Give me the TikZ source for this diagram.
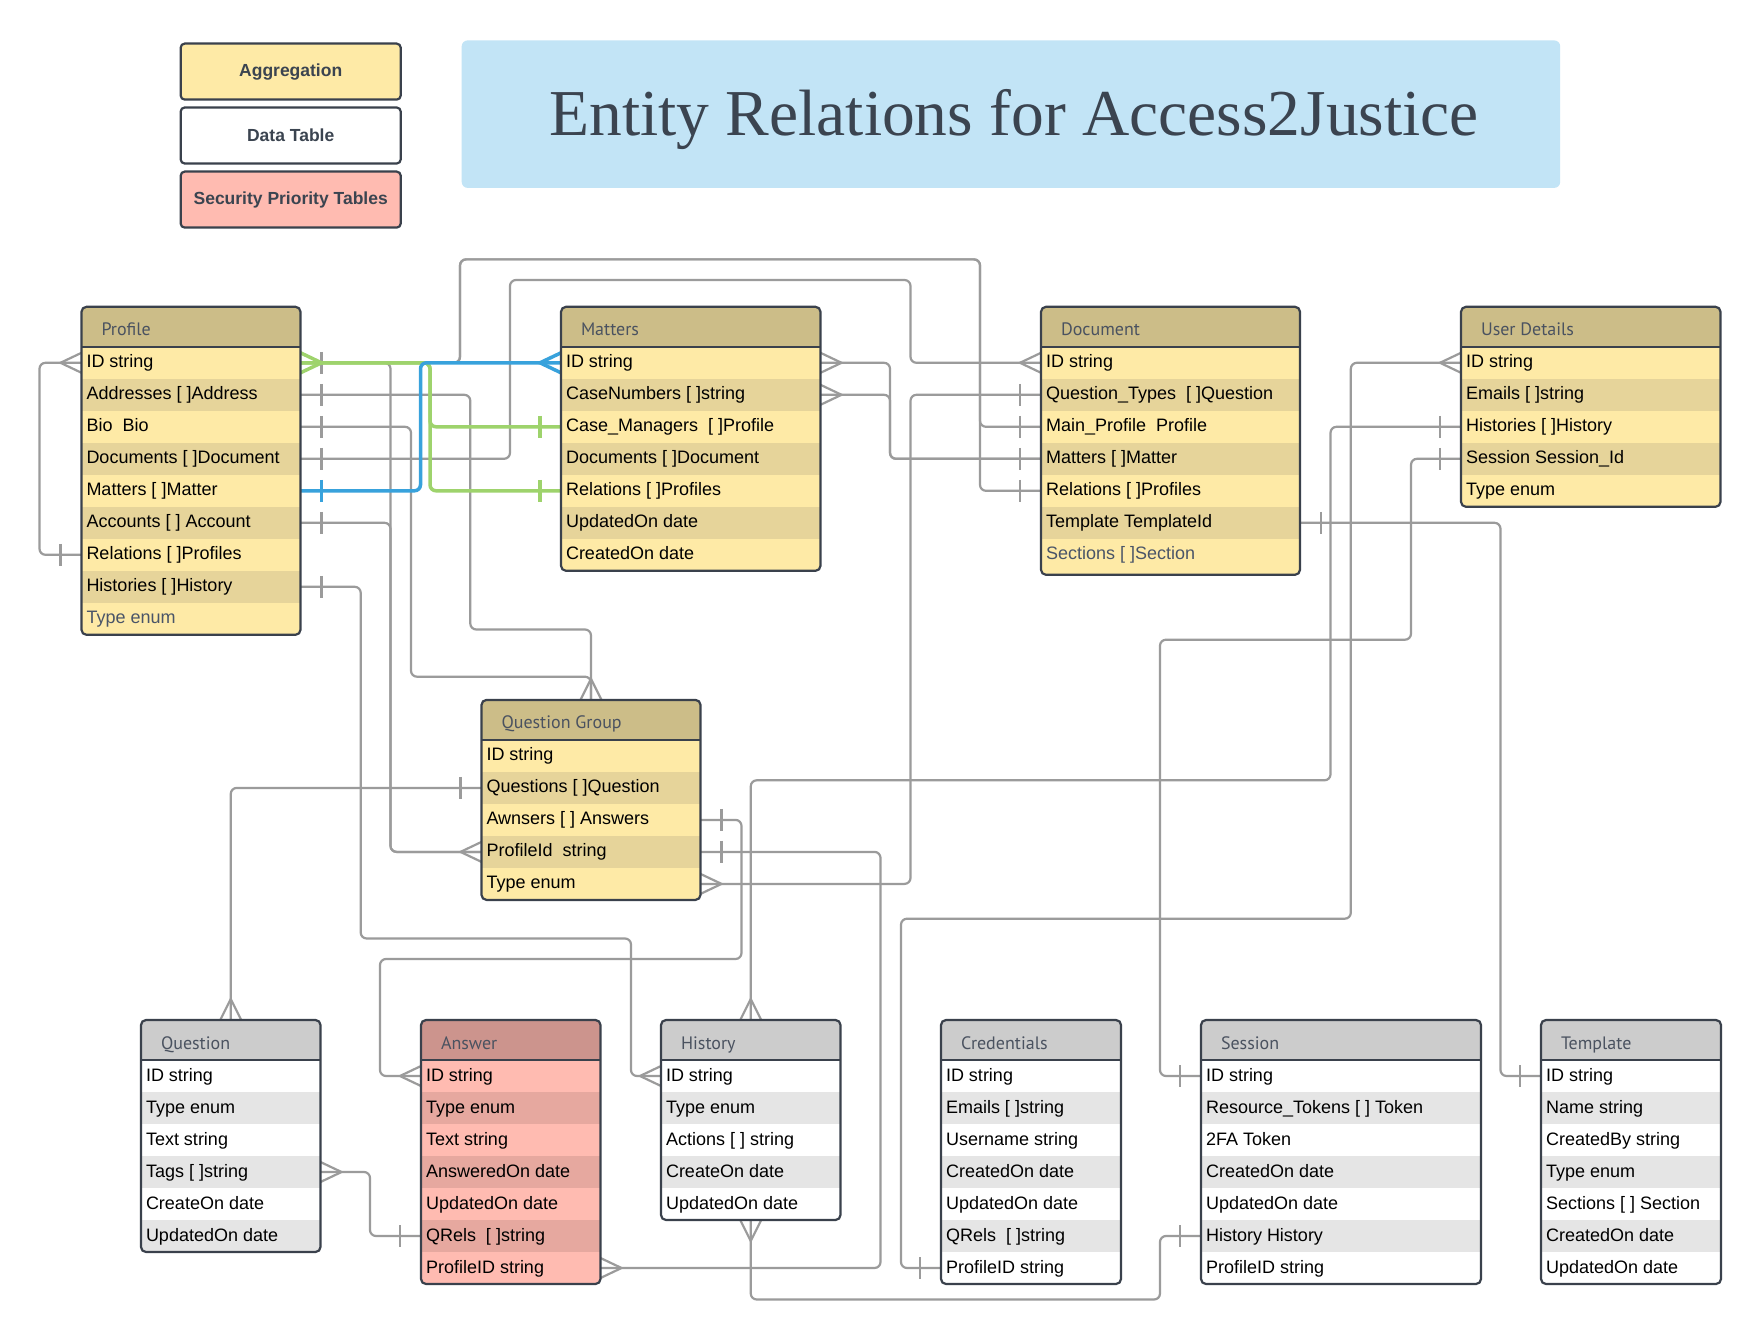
\documentclass[tikz,border=0pt]{standalone}
\usepackage{fontspec}
\setmainfont{Liberation Sans}
\newfontfamily\hdrfont{PT Sans}
\newfontfamily\titlefont{Liberation Serif}
\usetikzlibrary{calc}
\pgfdeclarelayer{paper}
\pgfdeclarelayer{lines}
\pgfsetlayers{paper,lines,main}

\definecolor{agga}{HTML}{FEEAA6}
\definecolor{aggb}{HTML}{E6D49A}
\definecolor{agghead}{HTML}{CCBD88}
\definecolor{data}{HTML}{FFFFFF}
\definecolor{datb}{HTML}{E5E5E5}
\definecolor{dathead}{HTML}{CCCCCC}
\definecolor{seca}{HTML}{FFBBB1}
\definecolor{secb}{HTML}{E6A89F}
\definecolor{sechead}{HTML}{CC948D}
\definecolor{framec}{HTML}{3A414C}
\definecolor{hdrgray}{HTML}{4A5260}
\definecolor{lastgray}{HTML}{4A5568}
\definecolor{linegray}{HTML}{9B9B9B}
\definecolor{relgreen}{HTML}{9ED36C}
\definecolor{relblue}{HTML}{38A2DC}
\definecolor{titlebg}{HTML}{C2E4F6}
\definecolor{titletext}{HTML}{3B4450}

\tikzset{
  rowcell/.style={rectangle, inner sep=0pt, outer sep=0pt, draw=none},
  rowtext/.style={inner sep=0pt, outer sep=0pt, font=\fontsize{18}{21}\selectfont, text=black},
  tframe/.style={rectangle, draw=framec, line width=2.2pt, rounded corners=5pt, inner sep=0pt, outer sep=0pt},
  tline/.style={draw=framec, line width=2.2pt},
  hdrtext/.style={inner sep=0pt, outer sep=0pt, font=\hdrfont\fontsize{18}{21}\selectfont, text=hdrgray},
  rel/.style={draw=linegray, line width=2.2pt, rounded corners=6pt},
  relg/.style={draw=relgreen, line width=3.5pt, rounded corners=6pt},
  relb/.style={draw=relblue, line width=3.5pt, rounded corners=6pt},
  mk/.style={draw=linegray, line width=2.2pt, sharp corners},
  mkg/.style={draw=relgreen, line width=3.5pt, sharp corners},
  mkb/.style={draw=relblue, line width=3.5pt, sharp corners},
  legendbox/.style={rectangle, draw=framec, line width=2.2pt, rounded corners=4pt,
    minimum width=220pt, minimum height=56pt, inner sep=0pt, outer sep=0pt,
    font=\bfseries\fontsize{17.5}{20}\selectfont, text=titletext},
}

% #1 name #2 x #3 y #4 width #5 rows #6 title #7 scheme #8 row list #9 extra bottom
\newcommand{\ertable}[9]{%
  \pgfmathsetmacro{\tbot}{#3+40+32*#5+#9}%
  \begin{scope}
    \clip[rounded corners=5pt] (#2,#3) rectangle (#2+#4,\tbot);
    \fill[#7head] (#2,#3) rectangle (#2+#4,#3+40);
    \foreach \rowtxt [count=\rowi] in {#8} {%
      \pgfmathsetmacro{\ry}{#3+40+32*(\rowi-1)}%
      \pgfmathsetmacro{\rh}{32+(\rowi==#5)*#9}%
      \ifodd\rowi\relax\def\rc{#7a}\else\def\rc{#7b}\fi
      \node[rowcell, fill=\rc, minimum width=#4, minimum height=\rh, anchor=north west] (#1-\rowi) at (#2,\ry) {};
      \node[rowtext, anchor=base west] (#1-t\rowi) at (#2+5,\ry+21) {\rowtxt};
    }
  \end{scope}
  \node[tframe, minimum width=#4, minimum height=\tbot-#3, anchor=north west] (#1) at (#2,#3) {};
  \draw[tline] (#2,#3+40) -- (#2+#4,#3+40);
  \node[hdrtext, anchor=base west] (#1-h) at (#2+20,#3+29) {#6};
}

\newcommand{\crowW}[2][mk]{\draw[#1] ($(#2)+(0,-10)$) -- ($(#2)+(-21,0)$) -- ($(#2)+(0,10)$);}
\newcommand{\crowE}[2][mk]{\draw[#1] ($(#2)+(0,-10)$) -- ($(#2)+(21,0)$) -- ($(#2)+(0,10)$);}
\newcommand{\crowN}[2][mk]{\draw[#1] ($(#2)+(-10.5,0)$) -- ($(#2)+(0,-21)$) -- ($(#2)+(10.5,0)$);}
\newcommand{\crowS}[2][mk]{\draw[#1] ($(#2)+(-10.5,0)$) -- ($(#2)+(0,21)$) -- ($(#2)+(10.5,0)$);}
\newcommand{\barW}[2][mk]{\draw[#1] ($(#2)+(-21,-11)$) -- ($(#2)+(-21,11)$);}
\newcommand{\barE}[2][mk]{\draw[#1] ($(#2)+(21,-11)$) -- ($(#2)+(21,11)$);}

\begin{document}
\begin{tikzpicture}[x=1pt,y=-1pt]
\begin{pgfonlayer}{paper}
  \fill[white] (0,0) rectangle (1761,1340);
\end{pgfonlayer}
\useasboundingbox (0,0) rectangle (1761,1340);

% legend
\node[legendbox, fill=agga] (lg-agg) at (290.7,71.6) {Aggregation};
\node[legendbox, fill=white] (lg-dat) at (290.7,135.5) {Data Table};
\node[legendbox, fill=seca] (lg-sec) at (290.7,199.6) {Security Priority Tables};

% title
\node[fill=titlebg, rounded corners=6pt, minimum width=1098.5pt, minimum height=147.5pt,
      anchor=north west, inner sep=0pt] (titlebox) at (461.5,40.2) {};
\node[anchor=base, inner sep=0pt, font=\titlefont\fontsize{65.5}{70}\selectfont, text=titletext]
      (title) at (1014,136) {Entity Relations for Access2Justice};

% tables
\ertable{pf}{81.5}{306.8}{219}{9}{Profile}{agg}{ID string, Addresses [ ]Address, Bio~ Bio, Documents [ ]Document, Matters [ ]Matter, Accounts [ ] Account, Relations [ ]Profiles, Histories [ ]History, {\color{lastgray}Type enum}}{0}
\ertable{mt}{561}{306.8}{259.5}{7}{Matters}{agg}{ID string, CaseNumbers [ ]string, Case\_Managers~ [ ]Profile, Documents [ ]Document, Relations [ ]Profiles, UpdatedOn date, CreatedOn date}{0}
\ertable{dc}{1041}{306.8}{259}{7}{Document}{agg}{ID string, Question\_Types~ [ ]Question, Main\_Profile~ Profile, Matters [ ]Matter, Relations [ ]Profiles, Template TemplateId, {\color{lastgray}Sections [ ]Section}}{4}
\ertable{ud}{1461}{306.8}{259.5}{5}{User Details}{agg}{ID string, Emails [ ]string, Histories [ ]History, Session Session\_Id, Type enum}{0}
\ertable{qg}{481.5}{699.9}{219}{5}{Question Group}{agg}{ID string, Questions [ ]Question, Awnsers [ ] Answers, ProfileId~ string, Type enum}{0}
\ertable{qn}{141}{1020}{179.5}{6}{Question}{dat}{ID string, Type enum, Text string, Tags [ ]string, CreateOn date, UpdatedOn date}{0}
\ertable{an}{421}{1020}{179.5}{7}{Answer}{sec}{ID string, Type enum, Text string, AnsweredOn date, UpdatedOn date, QRels~ [ ]string, ProfileID string}{0}
\ertable{hi}{661}{1020}{179.5}{5}{History}{dat}{ID string, Type enum, Actions [ ] string, CreateOn date, UpdatedOn date}{0}
\ertable{cr}{941}{1020}{180}{7}{Credentials}{dat}{ID string, Emails [ ]string, Username string, CreatedOn date, UpdatedOn date, QRels~ [ ]string, ProfileID string}{0}
\ertable{se}{1201}{1020}{280}{7}{Session}{dat}{ID string, Resource\_Tokens [ ] Token, 2FA Token, CreatedOn date, UpdatedOn date, History History, ProfileID string}{0}
\ertable{tp}{1541}{1020}{180}{7}{Template}{dat}{ID string, Name string, CreatedBy string, Type enum, Sections [ ] Section, CreatedOn date, UpdatedOn date}{0}

\begin{pgfonlayer}{lines}
% gray connectors
\draw[rel] (pf-1.west) -| ($(pf-7.west)+(-42,0)$) -- (pf-7.west);
\draw[rel] (pf-1.east) -| (460,259.4) -| ($(dc-3.west)+(-61,0)$) -- (dc-3.west);
\draw[rel] (pf-1.east) -| (460,259.4) -| ($(dc-5.west)+(-61,0)$) -- (dc-5.west);
\draw[rel] (pf-2.east) -| (470.3,629.5) -| (qg.north);
\draw[rel] (pf-3.east) -| (411,676.7) -| (qg.north);
\draw[rel] (pf-4.east) -| (510,280) -| ($(dc-1.west)+(-130.5,0)$) -- (dc-1.west);
\draw[rel] (pf-1.east) -| ($(qg-4.west)+(-91,0)$) -- (qg-4.west);
\draw[rel] (pf-6.east) -| ($(qg-4.west)+(-91,0)$) -- (qg-4.west);
\draw[rel] (pf-8.east) -| (360.7,938.5) -| ($(hi-1.west)+(-30,0)$) -- (hi-1.west);
\draw[rel] (mt-1.east) -| ($(dc-4.west)+(-151,0)$) -- (dc-4.west);
\draw[rel] (mt-2.east) -| ($(dc-4.west)+(-151,0)$) -- (dc-4.west);
\draw[rel] (dc-2.west) -| ($(qg-5.east)+(210,0)$) -- (qg-5.east);
\draw[rel] (ud-1.west) -| (1350.8,918.7) -| ($(cr-7.west)+(-40,0)$) -- (cr-7.west);
\draw[rel] (ud-3.west) -| (1330.5,780.3) -| (hi.north);
\draw[rel] (ud-4.west) -| (1411,639.7) -| ($(se-1.west)+(-41,0)$) -- (se-1.west);
\draw[rel] (dc-6.east) -| ($(tp-1.west)+(-40.5,0)$) -- (tp-1.west);
\draw[rel] (qg-2.west) -| (qn.north);
\draw[rel] (qg-3.east) -| (741.5,959) -| ($(an-1.west)+(-41,0)$) -- (an-1.west);
\draw[rel] (qg-4.east) -| ($(an-7.east)+(280,0)$) -- (an-7.east);
\draw[rel] (qn-4.east) -| ($(an-6.west)+(-51,0)$) -- (an-6.west);
\draw[rel] (hi.south) |- (1160,1299.5) |- (se-6.west);

% gray markers
\crowW{pf-1.west} \barW{pf-7.west}
\crowE{pf-1.east} \barE{pf-1.east}
\barE{pf-2.east} \barE{pf-3.east} \barE{pf-4.east} \barE{pf-6.east} \barE{pf-8.east}
\crowE{mt-1.east} \crowE{mt-2.east}
\crowW{dc-1.west} \barW{dc-2.west} \barW{dc-3.west} \barW{dc-4.west} \barW{dc-5.west} \barE{dc-6.east}
\crowW{ud-1.west} \barW{ud-3.west} \barW{ud-4.west}
\crowN{qg.north} \crowW{qg-4.west} \barW{qg-2.west} \barE{qg-3.east} \barE{qg-4.east} \crowE{qg-5.east}
\crowN{qn.north} \crowE{qn-4.east}
\crowW{an-1.west} \barW{an-6.west} \crowE{an-7.east}
\crowN{hi.north} \crowW{hi-1.west} \crowS{hi.south}
\barW{cr-7.west} \barW{se-1.west} \barW{se-6.west} \barW{tp-1.west}

% green connectors
\draw[relg] (pf-1.east) -| ($(mt-5.west)+(-131,0)$) -- (mt-5.west);
\draw[relg] (pf-1.east) -| ($(mt-3.west)+(-131,0)$) -- (mt-3.west);
\crowE[mkg]{pf-1.east} \barW[mkg]{mt-3.west} \barW[mkg]{mt-5.west}

% blue connector
\draw[relb] (pf-5.east) -| ($(mt-1.west)+(-140.5,0)$) -- (mt-1.west);
\barE[mkb]{pf-5.east} \crowW[mkb]{mt-1.west}
\end{pgfonlayer}
\end{tikzpicture}
\end{document}
